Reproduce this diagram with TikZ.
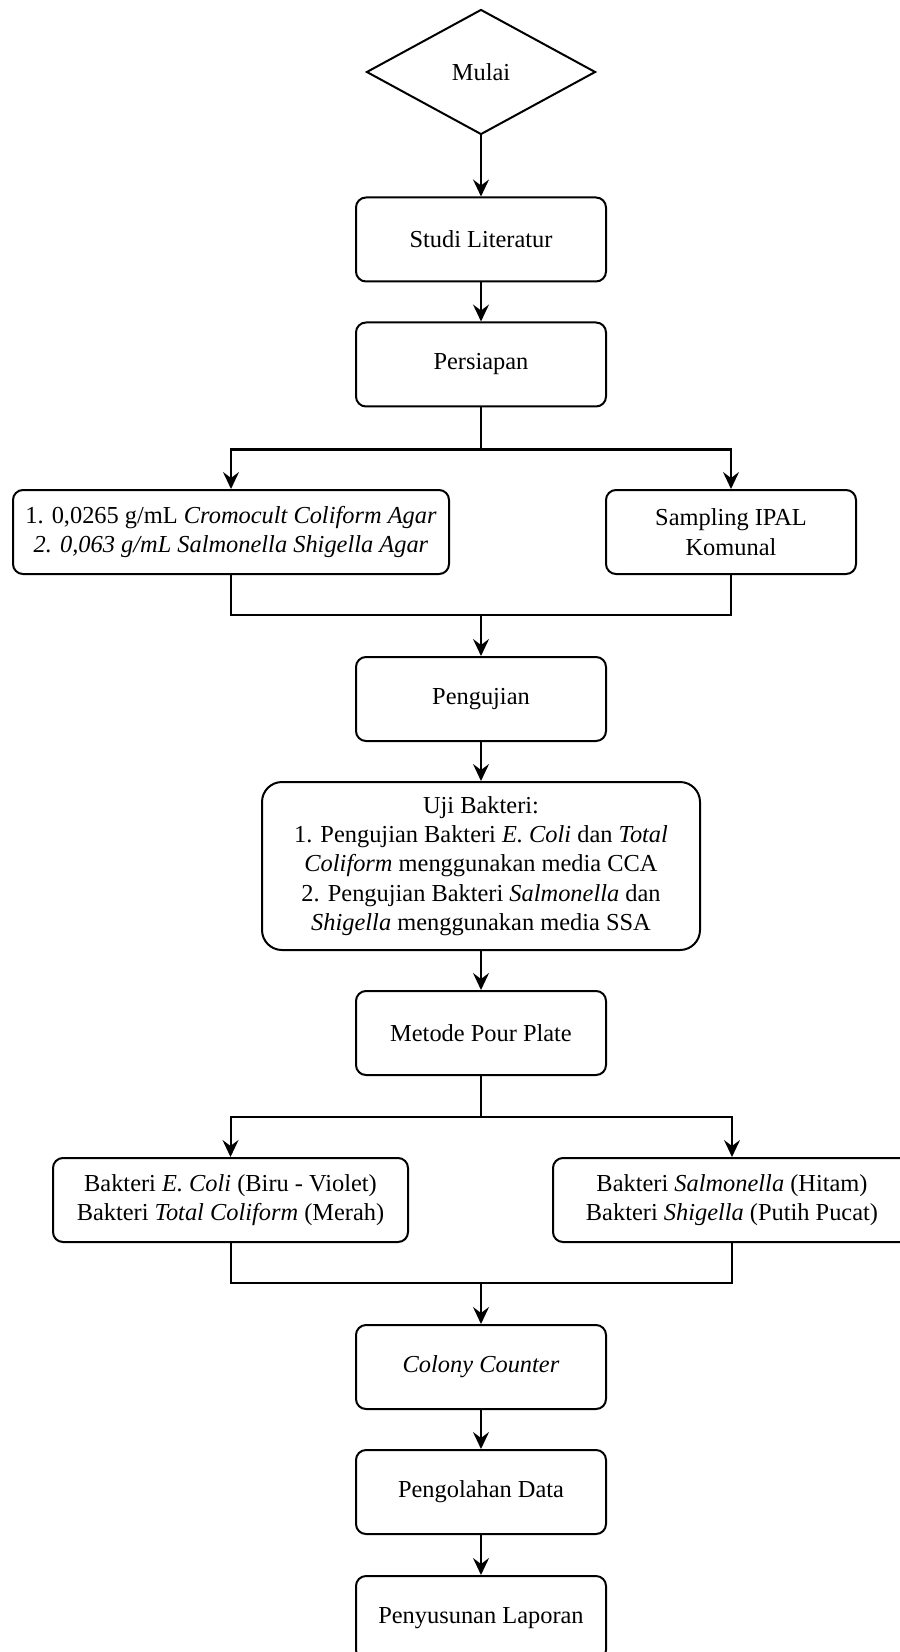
\documentclass[tikz,border=0pt]{standalone}
\usepackage{fontspec}
\setmainfont{Liberation Serif}
\usetikzlibrary{shapes.geometric, arrows.meta, positioning}

\tikzset{
  kotak/.style={draw, rounded corners=5pt, line width=1pt, align=center,
    minimum width=125pt, minimum height=42pt, inner sep=2pt},
  garis/.style={line width=1pt},
}

\begin{document}
\begin{tikzpicture}[>={Stealth[length=8.5pt,width=8pt,inset=3pt]}, x=0.5pt, y=-0.5pt, font=\fontsize{12.2}{14.7}\selectfont]
\useasboundingbox (0,0) rectangle (899,1652);
\node[draw, diamond, line width=1pt, aspect=1.83, minimum width=114.5pt, minimum height=62.5pt, inner sep=0pt] (mulai) at (481,72) {Mulai};
\node[kotak] (studi) at (481,239.5) {Studi Literatur};
\node[kotak] (persiapan) at (481,364.5) {Persiapan};
\node[kotak, minimum width=218pt] (media) at (231,532) {1. 0,0265 g/mL \textit{Cromocult Coliform Agar}\\\textit{2. 0,063 g/mL Salmonella Shigella Agar}};
\node[kotak] (sampling) at (731,532) {Sampling IPAL\\Komunal};
\node[kotak] (pengujian) at (481,699) {Pengujian};
\node[kotak, rounded corners=10pt, minimum width=219pt, minimum height=84pt] (uji) at (481,866) {Uji Bakteri:\\1. Pengujian Bakteri \textit{E. Coli} dan \textit{Total}\\\textit{Coliform} menggunakan media CCA\\2. Pengujian Bakteri \textit{Salmonella} dan\\\textit{Shigella} menggunakan media SSA};
\node[kotak] (metode) at (481,1033) {Metode Pour Plate};
\node[kotak, minimum width=177.5pt] (ecoli) at (230.5,1200) {Bakteri \textit{E. Coli} (Biru - Violet)\\Bakteri \textit{Total Coliform} (Merah)};
\node[kotak, minimum width=179pt] (salmo) at (732,1200) {Bakteri \textit{Salmonella} (Hitam)\\Bakteri \textit{Shigella} (Putih Pucat)};
\node[kotak] (colony) at (481,1367) {\textit{Colony Counter}};
\node[kotak] (olah) at (481,1492) {Pengolahan Data};
\node[kotak] (laporan) at (481,1618) {Penyusunan Laporan};
%
\coordinate (gabung1) at (481,615);
\coordinate (gabung2) at (481,1283);
%
\draw[garis, ->] (mulai) -- (studi);
\draw[garis, ->] (studi) -- (persiapan);
\draw[garis, ->] (persiapan.south) -- ++(0,42) -| (media.north);
\draw[garis, ->] (persiapan.south) -- ++(0,42) -| (sampling.north);
\draw[garis] (media.south) |- (gabung1);
\draw[garis] (sampling.south) |- (gabung1);
\draw[garis, ->] (gabung1) -- (pengujian);
\draw[garis, ->] (pengujian) -- (uji);
\draw[garis, ->] (uji) -- (metode);
\draw[garis, ->] (metode.south) -- ++(0,41) -| (ecoli.north);
\draw[garis, ->] (metode.south) -- ++(0,41) -| (salmo.north);
\draw[garis] (ecoli.south) |- (gabung2);
\draw[garis] (salmo.south) |- (gabung2);
\draw[garis, ->] (gabung2) -- (colony);
\draw[garis, ->] (colony) -- (olah);
\draw[garis, ->] (olah) -- (laporan);
\end{tikzpicture}
\end{document}
